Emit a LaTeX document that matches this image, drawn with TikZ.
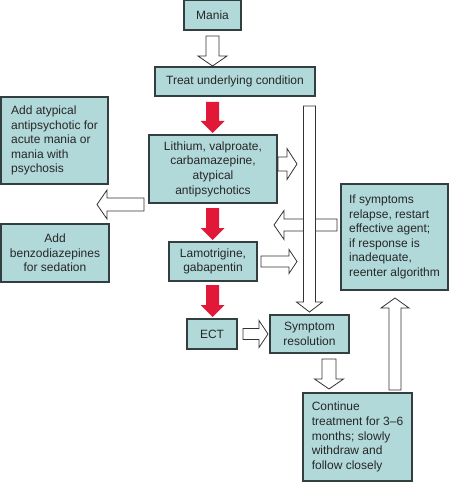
\documentclass[tikz,border=0pt]{standalone}
\usepackage{fontspec}
\setmainfont{Liberation Sans}
\definecolor{boxfill}{RGB}{178,217,218}
\definecolor{boxline}{RGB}{50,62,64}
\definecolor{redarr}{RGB}{226,24,56}
\tikzset{
  box/.style={draw=boxline, fill=boxfill, line width=1.1bp, inner sep=0pt,
    font=\fontsize{12bp}{14.6bp}\selectfont, text=black!85},
  hollow/.style={draw=black!80, fill=white, line width=0.8bp, line join=miter},
  redfill/.style={fill=redarr, draw=none}
}
% vertical block arrow: [style]{xc}{ystart}{yheadbase}{ytip}{shaft half}{head half}
\newcommand\arrV[7][hollow]{\draw[#1] ({#2-#6},#3) -- ({#2-#6},#4) -- ({#2-#7},#4) -- (#2,#5) -- ({#2+#7},#4) -- ({#2+#6},#4) -- ({#2+#6},#3) -- cycle;}
% horizontal block arrow: [style]{yc}{xstart}{xheadbase}{xtip}{shaft half}{head half}
\newcommand\arrH[7][hollow]{\draw[#1] (#3,{#2-#6}) -- (#4,{#2-#6}) -- (#4,{#2-#7}) -- (#5,#2) -- (#4,{#2+#7}) -- (#4,{#2+#6}) -- (#3,{#2+#6}) -- cycle;}
\begin{document}
\begin{tikzpicture}[x=1bp,y=-1bp]
\useasboundingbox (0,0) rectangle (449,482);
% boxes
\node[box, minimum width=57bp, minimum height=29.5bp] (mania) at (212.5,15.3) {Mania};
\node[box, minimum width=160bp, minimum height=29bp] (treat) at (235,81.5) {Treat underlying condition};
\node[box, minimum width=128bp, minimum height=68bp, align=center] (lith) at (213,169) {Lithium, valproate,\\carbamazepine,\\atypical\\antipsychotics};
\node[box, minimum width=107bp, minimum height=87bp, align=left] (addatyp) at (54.5,140.5) {Add atypical\\antipsychotic for\\acute mania or\\mania with\\psychosis};
\node[box, minimum width=108bp, minimum height=58bp, align=center] (benzo) at (55,253) {Add\\benzodiazepines\\for sedation};
\node[box, minimum width=88bp, minimum height=39bp, align=center] (lamo) at (213,261.5) {Lamotrigine,\\gabapentin};
\node[box, minimum width=107bp, minimum height=106bp, align=left] (ifsym) at (394.5,237) {If symptoms\\relapse, restart\\effective agent;\\if response is\\inadequate,\\reenter algorithm};
\node[box, minimum width=50bp, minimum height=30bp] (ect) at (212,334) {ECT};
\node[box, minimum width=79bp, minimum height=38bp, align=center] (sympt) at (309.5,334) {Symptom\\resolution};
\node[box, minimum width=109bp, minimum height=88bp, align=left] (cont) at (357.5,437) {Continue\\treatment for 3–6\\months; slowly\\withdraw and\\follow closely};
% hollow arrows
\arrV{212.5}{36}{56}{66}{6.5}{14.5}
\arrH{164}{278}{287}{297}{7}{15.5}
\arrH{204.5}{144}{107}{97}{6.5}{14.5}
\arrH{261.5}{261}{289}{297}{5.5}{12}
\arrH{225}{337}{284}{274}{6}{14.5}
\arrV{309.5}{106}{302}{312}{6}{13}
\arrH{334}{243}{259}{268}{5.5}{13.5}
\arrV{329}{359}{379}{389}{7}{14.5}
\arrV{395}{390}{308}{298}{6}{14}
% red arrows
\arrV[redfill]{212.5}{102}{121}{133}{6.5}{12}
\arrV[redfill]{212.5}{208}{228}{240}{6.5}{12}
\arrV[redfill]{212.5}{285}{305}{317}{6.5}{12}
\end{tikzpicture}
\end{document}
